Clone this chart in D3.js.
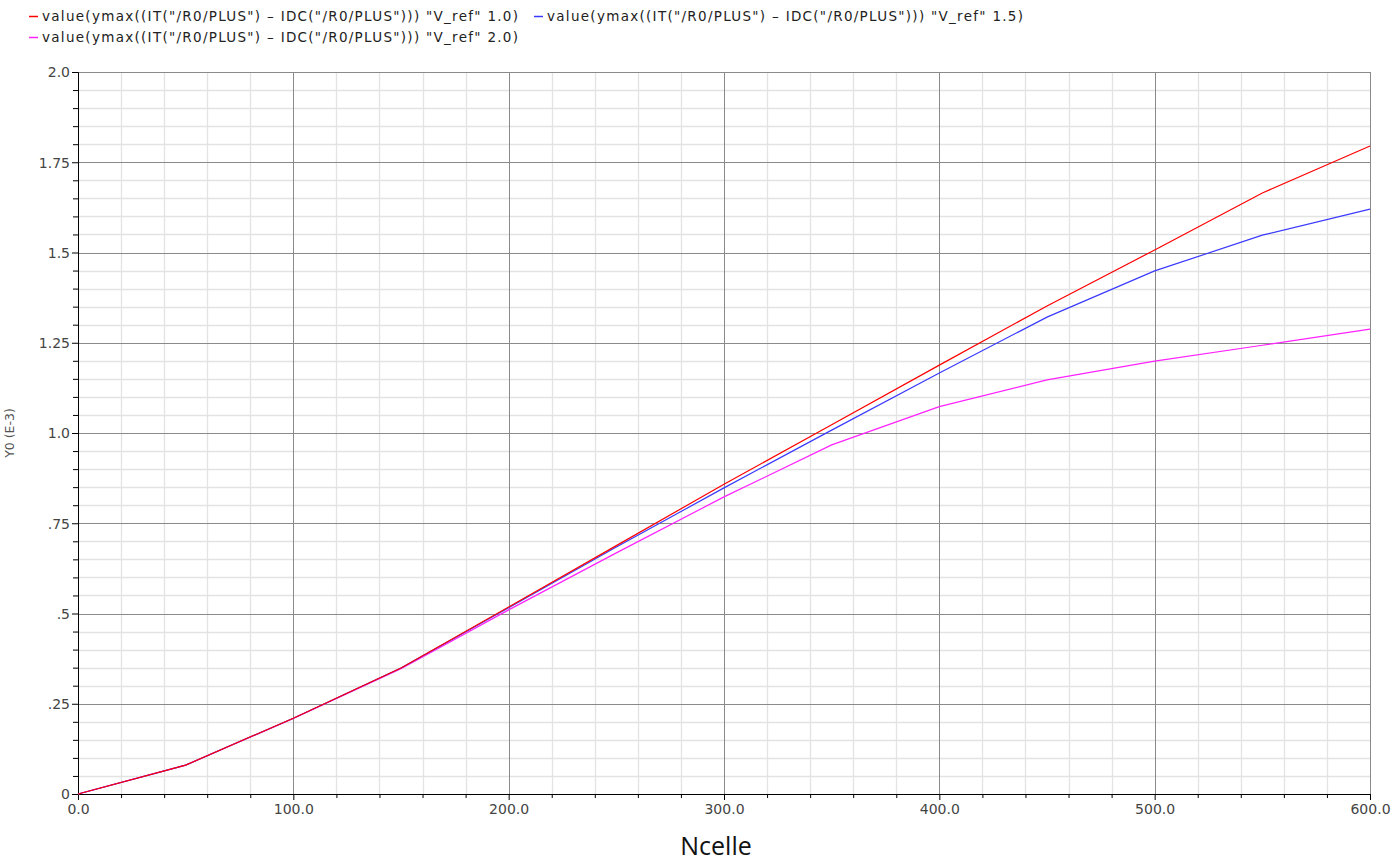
<!DOCTYPE html>
<html>
<head>
<meta charset="utf-8">
<script src="https://cdn.jsdelivr.net/npm/d3@7"></script>
<style>
  body { margin: 0; background: #fff; }
  svg { display: block; }
  .legend text { font-family: "DejaVu Sans", Verdana, sans-serif; font-size: 13.5px; fill: #222; }
  .axis text { font-family: "DejaVu Sans", Verdana, sans-serif; font-size: 14px; fill: #444; }
  .axis path, .axis line { stroke: #000; }
</style>
</head>
<body>
<script>
// Ncelle values (x)
var ncelle = [0, 50, 100, 150, 200, 250, 300, 350, 400, 450, 500, 550, 600];

// Y0 (E-3) for each V_ref
var vref10 = [0, 0.080, 0.210, 0.349, 0.518, 0.688, 0.858, 1.023, 1.188, 1.352, 1.507, 1.665, 1.795];
var vref15 = [0, 0.080, 0.210, 0.349, 0.516, 0.684, 0.848, 1.008, 1.166, 1.321, 1.449, 1.548, 1.620];
var vref20 = [0, 0.080, 0.209, 0.347, 0.510, 0.668, 0.823, 0.967, 1.073, 1.147, 1.199, 1.243, 1.288];

var seriesNames = [
  'value(ymax((IT("/R0/PLUS") \u2013 IDC("/R0/PLUS"))) "V_ref" 1.0)',
  'value(ymax((IT("/R0/PLUS") \u2013 IDC("/R0/PLUS"))) "V_ref" 1.5)',
  'value(ymax((IT("/R0/PLUS") \u2013 IDC("/R0/PLUS"))) "V_ref" 2.0)'
];
var seriesColors = ["#ff0000", "#3a3aff", "#ff22ff"];

var yTickValues = [0, 0.25, 0.5, 0.75, 1.0, 1.25, 1.5, 1.75, 2.0];
var yTickLabels = ["0", ".25", ".5", ".75", "1.0", "1.25", "1.5", "1.75", "2.0"];
var xTickValues = [0, 100, 200, 300, 400, 500, 600];
var xTickLabels = ["0.0", "100.0", "200.0", "300.0", "400.0", "500.0", "600.0"];

var width = 1396, height = 864;
var margin = {left: 78, right: 26, top: 72, bottom: 70};
var w = width - margin.left - margin.right,
    h = height - margin.top - margin.bottom;

var svg = d3.select('body').append('svg').attr('width', width).attr('height', height);

var x = d3.scaleLinear().domain([0, 600]).range([0, w]);
var y = d3.scaleLinear().domain([0, 2]).range([h, 0]);

var g = svg.append('g').attr('transform', 'translate(' + margin.left + ',' + margin.top + ')');

// minor grid
var minorX = d3.range(0, 601, 20).filter(function(d){ return d % 100 !== 0; });
var minorY = d3.range(0, 41).map(function(i){ return i * 0.05; }).filter(function(d, i){ return i % 5 !== 0; });
g.append('g').selectAll('line').data(minorX).enter().append('line')
  .attr('x1', function(d){ return Math.round(x(d)) + 0.5; }).attr('x2', function(d){ return Math.round(x(d)) + 0.5; })
  .attr('y1', 0).attr('y2', h).attr('stroke', '#e3e3e3').attr('stroke-width', 1.3);
g.append('g').selectAll('line').data(minorY).enter().append('line')
  .attr('y1', function(d){ return Math.round(y(d)) + 0.5; }).attr('y2', function(d){ return Math.round(y(d)) + 0.5; })
  .attr('x1', 0).attr('x2', w).attr('stroke', '#e3e3e3').attr('stroke-width', 1.3);

// major grid
g.append('g').selectAll('line').data(xTickValues.slice(1)).enter().append('line')
  .attr('x1', function(d){ return Math.round(x(d)) + 0.5; }).attr('x2', function(d){ return Math.round(x(d)) + 0.5; })
  .attr('y1', 0).attr('y2', h).attr('stroke', '#8a8a8a');
g.append('g').selectAll('line').data(yTickValues.slice(1)).enter().append('line')
  .attr('y1', function(d){ return Math.round(y(d)) + 0.5; }).attr('y2', function(d){ return Math.round(y(d)) + 0.5; })
  .attr('x1', 0).attr('x2', w).attr('stroke', '#8a8a8a');

// axes
var yAxis = d3.axisLeft(y).tickValues(yTickValues).tickSize(6).tickSizeOuter(0)
  .tickFormat(function(d, i){ return yTickLabels[i]; });
var yMinorAxis = d3.axisLeft(y).tickValues(minorY).tickSize(5).tickSizeOuter(0).tickFormat('');
var xAxis = d3.axisBottom(x).tickValues(xTickValues).tickSize(6).tickSizeOuter(0)
  .tickFormat(function(d, i){ return xTickLabels[i]; });
var xMinorAxis = d3.axisBottom(x).tickValues(minorX).tickSize(4).tickSizeOuter(0).tickFormat('');

g.append('g').attr('class', 'axis').call(yMinorAxis);
g.append('g').attr('class', 'axis y').call(yAxis)
  .selectAll('text').attr('x', -8).attr('dy', '0.35em');
g.append('g').attr('class', 'axis').attr('transform', 'translate(0,' + h + ')').call(xMinorAxis);
g.append('g').attr('class', 'axis x').attr('transform', 'translate(0,' + h + ')').call(xAxis)
  .selectAll('text').attr('y', 10);

// series lines
var allSeries = [vref10, vref15, vref20];
var line = d3.line()
  .x(function(d, i){ return x(ncelle[i]); })
  .y(function(d){ return y(d); });

// draw in reverse so red ends up on top like the reference at the low end
[2, 1, 0].forEach(function(k){
  g.append('path').attr('d', line(allSeries[k]))
    .attr('fill', 'none').attr('stroke', seriesColors[k]).attr('stroke-width', 1.2);
});

// axis titles
svg.append('text')
  .attr('transform', 'translate(14,' + (margin.top + h / 2) + ') rotate(-90)')
  .attr('text-anchor', 'middle')
  .attr('font-family', '"DejaVu Sans", Verdana, sans-serif').attr('font-size', 12.5).attr('fill', '#555')
  .text('Y0 (E-3)');

svg.append('text')
  .attr('x', 716).attr('y', 855)
  .attr('text-anchor', 'middle')
  .attr('font-family', '"Open Sans", "Liberation Sans", sans-serif').attr('font-size', 25).attr('fill', '#111')
  .text('Ncelle');

// legend
var legendPos = [[29, 16], [534, 16], [29, 37]];
var legend = svg.append('g').attr('class', 'legend');
seriesNames.forEach(function(name, k){
  var p = legendPos[k];
  legend.append('line').attr('x1', p[0]).attr('x2', p[0] + 9).attr('y1', p[1] + 0.5).attr('y2', p[1] + 0.5)
    .attr('stroke', seriesColors[k]).attr('stroke-width', 1.5);
  legend.append('text').attr('x', p[0] + 13).attr('y', p[1]).attr('dy', '0.35em')
    .attr('textLength', 476).attr('lengthAdjust', 'spacing').text(name);
});
</script>
</body>
</html>
